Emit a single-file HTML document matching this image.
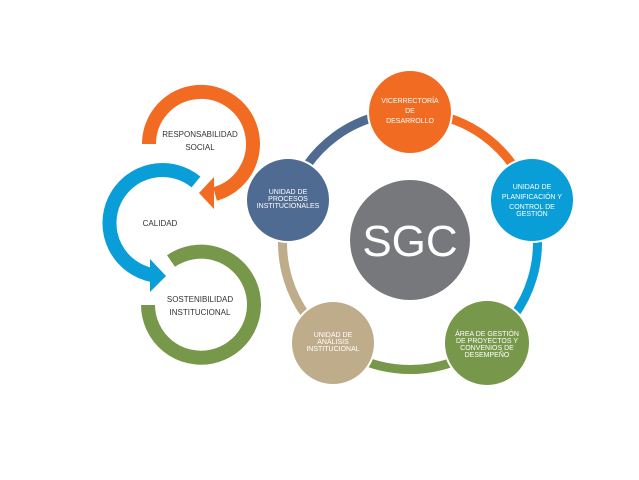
<!DOCTYPE html>
<html><head><meta charset="utf-8"><style>
html,body{margin:0;padding:0;background:#fff;}
svg{display:block;}
text{font-family:"Liberation Sans",sans-serif;}
</style></head><body>
<svg width="639" height="480" viewBox="0 0 639 480" xmlns="http://www.w3.org/2000/svg">
<!-- left cycle -->
<!-- orange: center (201,144) r 52 -->
<path d="M149,144 A52,52 0 1 1 215,194" fill="none" stroke="#f26b22" stroke-width="14"/>
<polygon points="199,193 214,177 214,209" fill="#f26b22"/>
<!-- blue: center (162,223) r 53 -->
<path d="M196,182 A53,53 0 1 0 152,275" fill="none" stroke="#0a9ed8" stroke-width="14"/>
<polygon points="166,276 150,259 150,292" fill="#0a9ed8"/>
<!-- green: center (201,305) r 53 -->
<path d="M171,261 A53,53 0 1 1 148,305" fill="none" stroke="#77984a" stroke-width="14"/>
<g font-size="8" fill="#333" text-anchor="middle">
<text x="200" y="137">RESPONSABILIDAD</text>
<text x="200" y="150">SOCIAL</text>
<text x="160" y="226">CALIDAD</text>
<text x="200" y="302">SOSTENIBILIDAD</text>
<text x="200" y="315">INSTITUCIONAL</text>
</g>
<!-- ring center (410,237) r 125 -->
<g fill="none" stroke-width="9">
<path d="M290,200 A125,125 0 0 1 410,112" stroke="#4f6b91"/>
<path d="M410,112 A125,125 0 0 1 530,200" stroke="#f26b22"/>
<path d="M530,200 A125,125 0 0 1 487,343" stroke="#0a9ed8"/>
<path d="M487,343 A125,125 0 0 1 333,343" stroke="#77984a"/>
<path d="M333,343 A125,125 0 0 1 290,200" stroke="#bfac8a"/>
</g>
<circle cx="410" cy="240" r="60" fill="#77787b"/>
<text x="410" y="256" font-size="44" fill="#fff" text-anchor="middle">SGC</text>
<g stroke="#fff" stroke-width="2">
<circle cx="410" cy="112" r="42" fill="#f26b22"/>
<circle cx="532" cy="200" r="42" fill="#0a9ed8"/>
<circle cx="487" cy="343" r="43" fill="#77984a"/>
<circle cx="333" cy="343" r="42" fill="#bfac8a"/>
<circle cx="288" cy="200" r="42" fill="#4f6b91"/>
</g>
<g font-size="7" fill="#fff" text-anchor="middle">
<text x="410" y="103">VICERRECTORÍA</text>
<text x="410" y="113">DE</text>
<text x="410" y="123">DESARROLLO</text>
<text x="532" y="189">UNIDAD DE</text>
<text x="532" y="199">PLANIFICACIÓN Y</text>
<text x="532" y="209">CONTROL DE</text>
<text x="532" y="216">GESTIÓN</text>
<text x="487" y="336">ÁREA DE GESTIÓN</text>
<text x="487" y="343">DE PROYECTOS Y</text>
<text x="487" y="350">CONVENIOS DE</text>
<text x="487" y="357">DESEMPEÑO</text>
<text x="333" y="337">UNIDAD DE</text>
<text x="333" y="344">ANÁLISIS</text>
<text x="333" y="351">INSTITUCIONAL</text>
<text x="288" y="194">UNIDAD DE</text>
<text x="288" y="201">PROCESOS</text>
<text x="288" y="208">INSTITUCIONALES</text>
</g>
</svg>
</body></html>
